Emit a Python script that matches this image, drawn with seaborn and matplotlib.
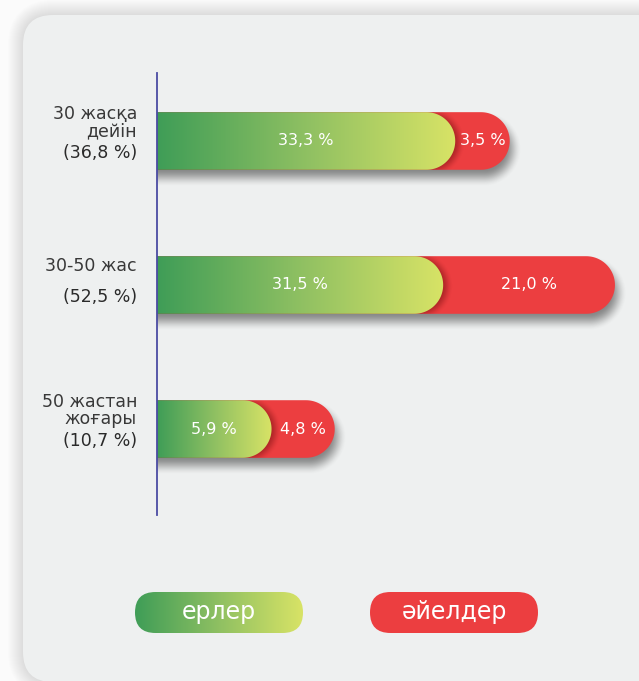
import numpy as np
import pandas as pd
import matplotlib
matplotlib.use("Agg")
import matplotlib.pyplot as plt
import seaborn as sns
from matplotlib.patches import Polygon, FancyBboxPatch
from matplotlib.colors import LinearSegmentedColormap, to_rgb

groups = ["30 жасқа\nдейін", "30-50 жас", "50 жастан\nжоғары"]
group_share = ["(36,8 %)", "(52,5 %)", "(10,7 %)"]
men = [33.3, 31.5, 5.9]
women = [3.5, 21.0, 4.8]
legend_labels = ["ерлер", "әйелдер"]

W, H = 639, 681
GREEN_L, GREEN_R = "#3f9d57", "#d8e366"
RED = "#ec3e40"
CARD = "#eef0f0"
AXIS = "#4b4ba3"
TEXT = "#383838"
CAP_G = 75  # px the green pill runs past its value (rounded end)
CAP_R = 31  # extra px for the red pill

green_cmap = LinearSegmentedColormap.from_list("grn", [GREEN_L, "#8fc062", GREEN_R])

sns.set_theme(style="white")
plt.rcParams["font.family"] = ["DejaVu Sans"]

fig = plt.figure(figsize=(W / 100, H / 100), dpi=100)
fig.patch.set_facecolor("#fbfbfb")

# pixel canvas for card, pills and legend
px = fig.add_axes([0, 0, 1, 1], zorder=0)
px.set_xlim(0, W)
px.set_ylim(0, H)
px.axis("off")

GX, GY = np.meshgrid(np.arange(W) + 0.5, np.arange(H) + 0.5)


def blurred_shadow(x0, x1, yc, r, dx, dy, sigma, amax, color, z, clip=None):
    # soft shadow of a right-rounded pill, drawn as an rgba image
    cx = x1 - r + dx
    d = np.hypot(np.maximum(GX - cx, 0), GY - (yc + dy)) - r
    t = np.clip((d + sigma) / (2 * sigma), 0, 1)
    a = amax * (1 - t * t * (3 - 2 * t))
    a[GX < x0] = 0
    img = np.zeros((H, W, 4))
    img[..., :3] = to_rgb(color)
    img[..., 3] = a
    im = px.imshow(img, extent=(0, W, 0, H), origin="lower", aspect="auto", zorder=z,
                   interpolation="nearest")
    if clip is not None:
        im.set_clip_path(clip)


def pill_right(x0, x1, yc, h, n=60):
    r = h / 2
    t = np.linspace(-np.pi / 2, np.pi / 2, n)
    arc = np.column_stack([x1 - r + r * np.cos(t), yc + r * np.sin(t)])
    return np.vstack([[x0, yc - r], arc, [x0, yc + r]])


def gradient_fill(poly, x0, x1, y0, y1, z):
    im = px.imshow(np.linspace(0, 1, 256)[None, :], cmap=green_cmap, extent=(x0, x1, y0, y1),
                   aspect="auto", zorder=z, interpolation="bilinear")
    im.set_clip_path(poly)


# card with shadow
card_x, card_y, card_w, card_h = 23, -1, 680, 667
for i in range(1, 16):
    px.add_patch(FancyBboxPatch((card_x, card_y), card_w, card_h, boxstyle="round,pad=0,rounding_size=30",
                                fc="none", ec=(0, 0, 0, 0.009), lw=i * 2 * 0.72, zorder=0.2))
px.add_patch(FancyBboxPatch((card_x, card_y), card_w, card_h, boxstyle="round,pad=0,rounding_size=30",
                            fc=CARD, ec="none", zorder=0.5))

# data axes: only its left spine shows, bars are read from it
ax = fig.add_axes([157 / W, (H - 515) / H, (W - 157) / W, (515 - 73) / H], zorder=2)
ax.set_facecolor("none")
df = pd.DataFrame({"group": groups, "men": men, "women": women})
df["total"] = df["men"] + df["women"]
sns.barplot(data=df, y="group", x="total", orient="h", width=0.4, color=RED, ax=ax)
sns.barplot(data=df, y="group", x="men", orient="h", width=0.4, color=GREEN_L, ax=ax)
ax.set_xlim(0, 71.9)
ax.set_ylim(2.597, -0.472)
ax.set_xticks([])
ax.set_yticks([])
ax.set_xlabel("")
ax.set_ylabel("")
for s in ["top", "right", "bottom"]:
    ax.spines[s].set_visible(False)
ax.spines["left"].set_color(AXIS)
ax.spines["left"].set_linewidth(1.3)

n = len(groups)
red_bars = ax.patches[:n]
green_bars = ax.patches[n:2 * n]
for p in ax.patches:
    p.set_visible(False)

for rb, gb, m, w in zip(red_bars, green_bars, men, women):
    (x0, y0), (xr, y1) = ax.transData.transform([(rb.get_x(), rb.get_y()),
                                                 (rb.get_x() + rb.get_width(), rb.get_y() + rb.get_height())])
    xg = ax.transData.transform((gb.get_x() + gb.get_width(), 0))[0]
    yb, yt = sorted([y0, y1])
    yc, h = (yb + yt) / 2, yt - yb
    g_end = xg + CAP_G
    r_end = xr + CAP_G + CAP_R

    blurred_shadow(x0, r_end, yc, h / 2, dx=3, dy=-8, sigma=9, amax=0.5, color="#1e1e1e", z=1)
    red_poly = Polygon(pill_right(x0, r_end, yc, h), closed=True, fc=RED, ec="none", zorder=2)
    px.add_patch(red_poly)

    # shade cast by the green pill onto the red one
    blurred_shadow(x0, g_end, yc, h / 2, dx=4, dy=-1, sigma=6, amax=0.5, color="#6a0a0a",
                   z=2.5, clip=red_poly)
    gp = Polygon(pill_right(x0, g_end, yc, h), closed=True, fc="none", ec="none", zorder=3)
    px.add_patch(gp)
    gradient_fill(gp, x0, g_end, yb, yt, 3)

    px.text((x0 + g_end) / 2, yc, f"{m:.1f} %".replace(".", ","), ha="center", va="center",
            color="white", fontsize=11.5, zorder=4)
    px.text((g_end + r_end) / 2, yc, f"{w:.1f} %".replace(".", ","), ha="center", va="center",
            color="white", fontsize=11.5, zorder=4)

# category labels left of the axis
for i, (name, share) in enumerate(zip(groups, group_share)):
    ax.annotate(name, xy=(0, i), xycoords=("axes fraction", "data"), xytext=(-14.4, 13.5),
                textcoords="offset points", ha="right", va="center", fontsize=12.5,
                color=TEXT, linespacing=0.95, annotation_clip=False)
    ax.annotate(share, xy=(0, i), xycoords=("axes fraction", "data"), xytext=(-14.4, -8.5),
                textcoords="offset points", ha="right", va="center", fontsize=12.5,
                color="#2a2a2a", annotation_clip=False)

# legend pills
lg_y, lg_h, lg_w = 48, 41, 168
for lx, label, kind in [(135, legend_labels[0], "g"), (370, legend_labels[1], "r")]:
    box = FancyBboxPatch((lx, lg_y), lg_w, lg_h, boxstyle=f"round,pad=0,rounding_size={lg_h / 2}",
                         fc=RED if kind == "r" else "none", ec="none", zorder=3)
    px.add_patch(box)
    if kind == "g":
        gradient_fill(box, lx, lx + lg_w, lg_y, lg_y + lg_h, 3)
    px.text(lx + lg_w / 2, lg_y + lg_h / 2, label, ha="center", va="center",
            color="white", fontsize=17, zorder=4)

px.set_xlim(0, W)
px.set_ylim(0, H)
fig.savefig("out.png", dpi=100)
